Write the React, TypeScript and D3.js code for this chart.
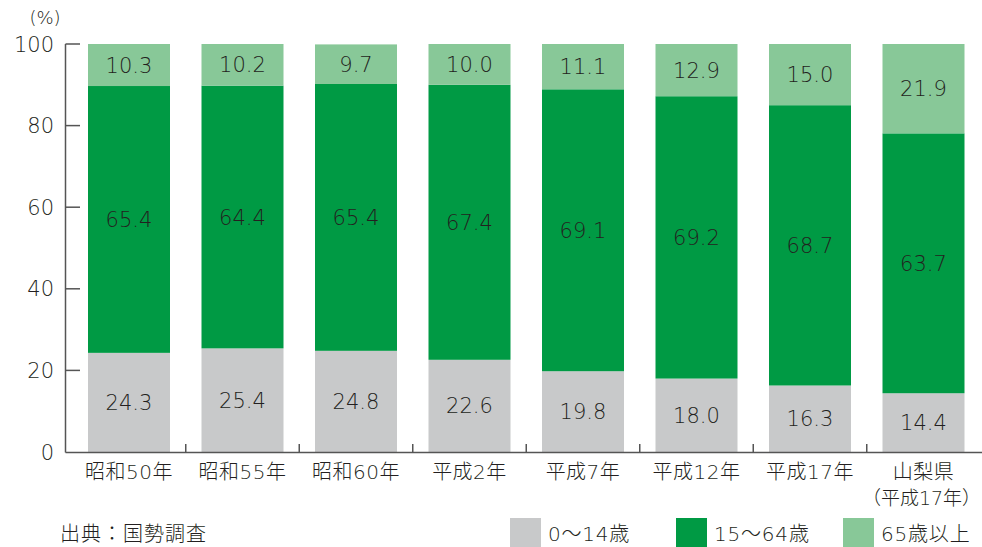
import React from "react";
import * as d3 from "d3";

const categories = ["昭和50年", "昭和55年", "昭和60年", "平成2年", "平成7年", "平成12年", "平成17年", "山梨県\n（平成17年）"];
const young = [24.3, 25.4, 24.8, 22.6, 19.8, 18.0, 16.3, 14.4];
const working = [65.4, 64.4, 65.4, 67.4, 69.1, 69.2, 68.7, 63.7];
const elderly = [10.3, 10.2, 9.7, 10.0, 11.1, 12.9, 15.0, 21.9];
const seriesNames = ["0～14歳", "15～64歳", "65歳以上"];
const colors = ["#c8c9ca", "#009a44", "#88c898"];
const yTicks = [0, 20, 40, 60, 80, 100];

const W = 982, H = 547;
const FONT = "'DejaVu Sans', 'Noto Sans CJK JP', sans-serif";
const TXT = "#231f20";

export default function App() {
  const x = d3.scaleBand<number>().domain(d3.range(categories.length)).range([72.25, 980.25]).paddingInner(0.2775).paddingOuter(0.13875);
  const y = d3.scaleLinear().domain([0, 100]).range([452, 44]);
  const rows = categories.map((c, i) => ({ i, young: young[i], working: working[i], elderly: elderly[i] }));
  const stack = d3.stack<any>().keys(["young", "working", "elderly"]);
  const layers = stack(rows);
  const step = x.step();
  const axisX = 65.5;
  return (
    <svg width={W} height={H} style={{ position: "absolute", left: 0, top: 0, fontFamily: FONT, fontWeight: 200 }}>
      <rect width={W} height={H} fill="#fff" />
      {layers.map((layer, k) =>
        layer.map((d, i) => (
          <rect key={k + "-" + i} x={x(i)} y={y(Math.min(d[1], 100))} width={x.bandwidth()} height={y(d[0]) - y(Math.min(d[1], 100))} fill={colors[k]} />
        ))
      )}
      {layers.map((layer, k) =>
        layer.map((d, i) => (
          <text key={"t" + k + "-" + i} x={(x(i) as number) + x.bandwidth() / 2} y={(y(d[0]) + y(Math.min(d[1], 100))) / 2} dy="0.36em" textAnchor="middle" fontSize={21} fill={TXT}>
            {(d[1] - d[0]).toFixed(1)}
          </text>
        ))
      )}
      <line x1={axisX} x2={axisX} y1={44} y2={452.5} stroke="#555" strokeWidth={1.5} />
      <line x1={axisX} x2={982} y1={452.5} y2={452.5} stroke="#555" strokeWidth={1.5} />
      {yTicks.map((t) => (
        <g key={t}>
          {t > 0 && <line x1={axisX} x2={80} y1={y(t)} y2={y(t)} stroke="#555" strokeWidth={1.5} />}
          <text x={54} y={y(t)} dy="0.36em" textAnchor="end" fontSize={21} fill={TXT}>{t}</text>
        </g>
      ))}
      {d3.range(1, categories.length).map((i) => (
        <line key={"s" + i} x1={(x(i) as number) - (step - x.bandwidth()) / 2} x2={(x(i) as number) - (step - x.bandwidth()) / 2} y1={444} y2={452.5} stroke="#555" strokeWidth={1.5} />
      ))}
      <text x={45} y={18} dy="0.36em" textAnchor="middle" fontSize={18} fill={TXT}>(%)</text>
      {categories.map((c, i) =>
        c.split("\n").map((line, j) => (
          <text key={"c" + i + "-" + j} x={(x(i) as number) + x.bandwidth() / 2 - (j === 1 ? 2 : 0)} y={472 + j * 26} dy="0.36em" textAnchor="middle" fontSize={j === 1 ? 19 : 20} letterSpacing={j === 1 ? 0 : 0.5} fill={TXT}>{line}</text>
        ))
      )}
      <text x={60} y={534} dy="0.36em" fontSize={20} letterSpacing={1} fill={TXT}>出典：国勢調査</text>
      {seriesNames.map((s, k) => {
        const lx = [510, 676, 843][k];
        return (
          <g key={"l" + k}>
            <rect x={lx} y={518} width={31} height={29} fill={colors[k]} />
            <text x={lx + 38} y={534} dy="0.36em" fontSize={20} letterSpacing={0.8} fill={TXT}>{s}</text>
          </g>
        );
      })}
    </svg>
  );
}
